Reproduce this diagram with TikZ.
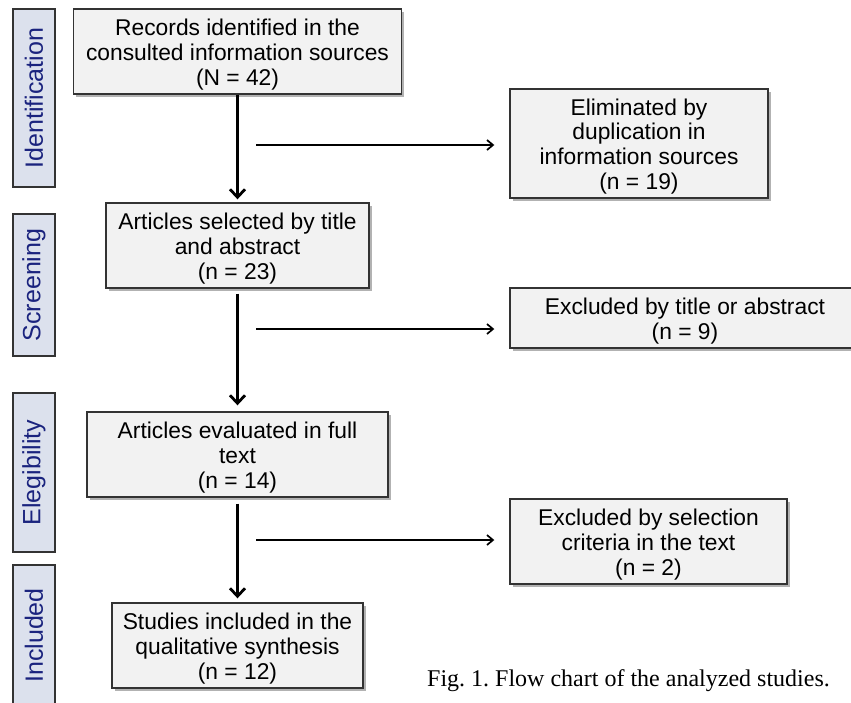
\documentclass[tikz,border=0pt]{standalone}
\usepackage{fontspec}
\setmainfont{Liberation Serif}
\newfontfamily\arialf{Liberation Sans}
\usetikzlibrary{arrows.meta,shadows,calc}
\definecolor{boxfill}{HTML}{F2F2F2}
\definecolor{boxdraw}{HTML}{333333}
\definecolor{labfill}{HTML}{DCE1ED}
\definecolor{labtext}{HTML}{1A237E}
\newcommand\tgap{\rule{0pt}{22.5pt}}
\tikzset{
  flowbox/.style={draw=boxdraw, line width=1.4pt, fill=boxfill, align=center,
    font=\arialf\fontsize{22.8}{24.8}\selectfont, inner sep=0pt,
    drop shadow={shadow xshift=2.5pt, shadow yshift=-2.5pt, fill=black, opacity=0.3}},
  phase/.style={draw=boxdraw, line width=1.4pt, fill=labfill, text=labtext,
    rotate=90, font=\arialf\fontsize{25}{27}\selectfont, inner sep=0pt,
    minimum height=42pt},
  mainarrow/.style={line width=3pt, -{Straight Barb[length=8pt,width=15pt,line width=2.8pt]}},
  sidearrow/.style={line width=1.3pt, -{Straight Barb[length=6pt,width=10pt,line width=1.7pt]}}
}
\begin{document}
\begin{tikzpicture}[x=1pt,y=-1pt]
\useasboundingbox (0,0) rectangle (851,702);
\fill[white] (0,0) rectangle (851,702);
% phase labels
\node[phase, minimum width=178pt] (p1) at (34,98) {Identification};
\node[phase, minimum width=142pt] (p2) at (34,285) {Screening};
\node[phase, minimum width=159pt] (p3) at (34,472.5) {Elegibility};
\node[phase, minimum width=141pt] (p4) at (34,635.5) {Included};
% main boxes
\node[flowbox, minimum width=328pt, minimum height=85pt] (b1) at (237.5,51.5)
  {\tgap Records identified in the\\consulted information sources\\(N = 42)};
\node[flowbox, minimum width=263pt, minimum height=85pt] (b2) at (237.5,245.5)
  {\tgap Articles selected by title\\and abstract\\(n = 23)};
\node[flowbox, minimum width=301pt, minimum height=85pt] (b3) at (237.5,454.5)
  {\tgap Articles evaluated in full\\text\\(n = 14)};
\node[flowbox, minimum width=251pt, minimum height=85pt] (b4) at (237.5,645.5)
  {\tgap Studies included in the\\qualitative synthesis\\(n = 12)};
% right boxes
\node[flowbox, minimum width=258pt, minimum height=109pt] (r1) at (639,143.5)
  {\tgap Eliminated by\\duplication in\\information sources\\(n = 19)};
\node[flowbox, minimum width=350pt, minimum height=60pt] (r2) at (685,318)
  {\tgap Excluded by title or abstract\\(n = 9)};
\node[flowbox, minimum width=277pt, minimum height=85pt] (r3) at (648.5,541.5)
  {\tgap Excluded by selection\\criteria in the text\\(n = 2)};
% main arrows
\draw[mainarrow, shorten >=3pt] (b1) -- (b2);
\draw[mainarrow, shorten <=5pt, shorten >=6pt] (b2) -- (b3);
\draw[mainarrow, shorten <=6pt, shorten >=4pt] (b3) -- (b4);
% side arrows
\coordinate (h1) at (256,145);
\coordinate (h2) at (256,329);
\coordinate (h3) at (256,540);
\draw[sidearrow, shorten >=15pt] (h1) -- (h1 -| r1.west);
\draw[sidearrow, shorten >=15pt] (h2) -- (h2 -| r2.west);
\draw[sidearrow, shorten >=15pt] (h3) -- (h3 -| r3.west);
% caption
\node[anchor=base, font=\frenchspacing\fontsize{24}{27}\selectfont, inner sep=0pt] (cap) at (628.5,686)
  {Fig. 1. Flow chart of the analyzed studies.};
\end{tikzpicture}
\end{document}
